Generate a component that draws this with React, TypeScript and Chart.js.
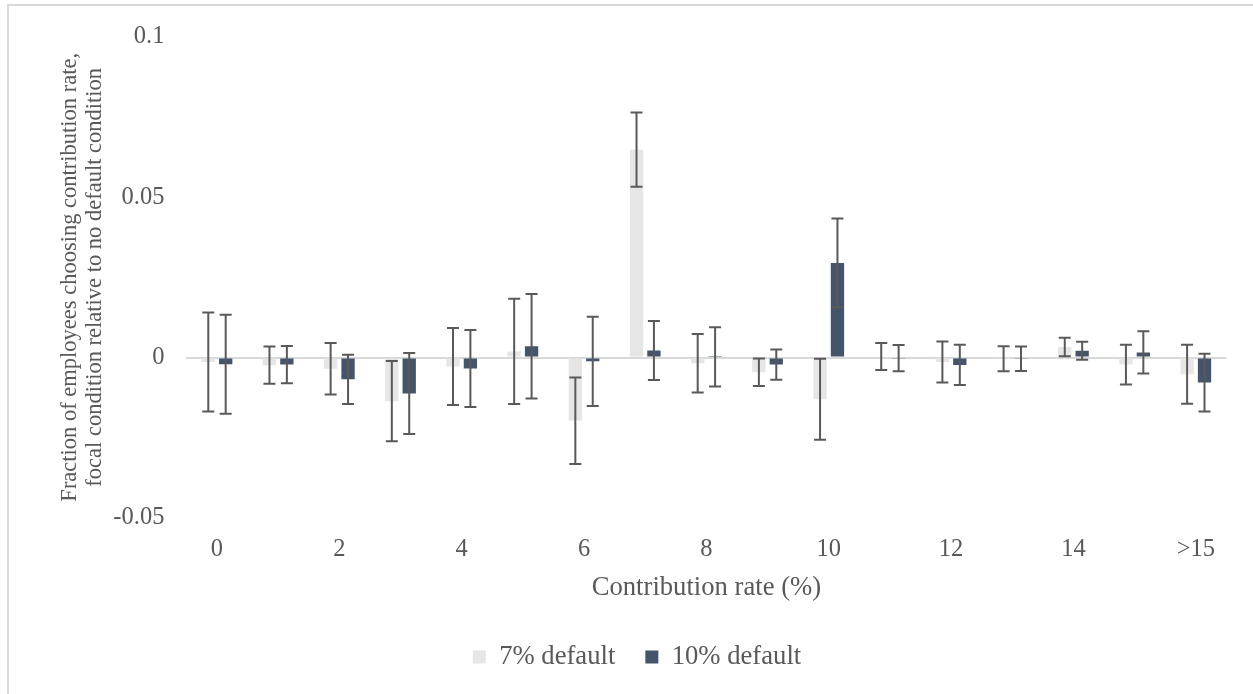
import React, { useEffect, useRef } from 'react';
import { Chart, registerables } from 'chart.js';

Chart.register(...registerables);

// ---- data ----
const CATEGORIES = ['0', '1', '2', '3', '4', '5', '6', '7', '8', '9', '10', '11', '12', '13', '14', '15', '>15'];
const X_TICK_LABELS = ['0', '', '2', '', '4', '', '6', '', '8', '', '10', '', '12', '', '14', '', '>15'];
const SERIES_NAMES = ['7% default', '10% default'];
const DEFAULT_7 = [-0.0014, -0.0024, -0.0035, -0.0136, -0.0028, 0.0019, -0.0197, 0.0648, -0.0018, -0.0046, -0.013, 0.0003, -0.0014, -0.0004, 0.0033, -0.0022, -0.0052];
const ERR_7 = [0.0154, 0.0058, 0.008, 0.0125, 0.012, 0.0164, 0.0135, 0.0116, 0.0091, 0.0043, 0.0126, 0.0042, 0.0064, 0.0039, 0.0029, 0.0062, 0.0092];
const DEFAULT_10 = [-0.0021, -0.0022, -0.0068, -0.0112, -0.0034, 0.0035, -0.0012, 0.0022, 0.0002, -0.0022, 0.0295, -0.0002, -0.0023, -0.0004, 0.0021, 0.0016, -0.0078];
const ERR_10 = [0.0154, 0.0058, 0.0077, 0.0126, 0.012, 0.0163, 0.0139, 0.0092, 0.0092, 0.0047, 0.0138, 0.0041, 0.0063, 0.0038, 0.0028, 0.0066, 0.009];
const Y_TICK_VALUES = [-0.05, 0, 0.05, 0.1];
const Y_TICK_LABELS = ['-0.05', '0', '0.05', '0.1'];
const Y_TITLE = ['Fraction of employees choosing contribution rate,', 'focal condition relative to no default condition'];
const X_TITLE = 'Contribution rate (%)';

const FONT = '"Liberation Serif", "Times New Roman", serif';
const TEXT = '#595959';

const errorBarPlugin = {
  id: 'errorBars',
  afterDatasetsDraw(chart: any) {
    const ctx = chart.ctx;
    const yScale = chart.scales.y;
    chart.data.datasets.forEach((ds: any, di: number) => {
      const meta = chart.getDatasetMeta(di);
      meta.data.forEach((bar: any, i: number) => {
        const v = ds.data[i];
        const e = ds.errors[i];
        const x = bar.x;
        const yTop = yScale.getPixelForValue(v + e);
        const yBot = yScale.getPixelForValue(v - e);
        ctx.save();
        ctx.strokeStyle = '#595959';
        ctx.lineWidth = 2;
        ctx.beginPath();
        ctx.moveTo(x, yTop);
        ctx.lineTo(x, yBot);
        ctx.moveTo(x - 6, yTop);
        ctx.lineTo(x + 6, yTop);
        ctx.moveTo(x - 6, yBot);
        ctx.lineTo(x + 6, yBot);
        ctx.stroke();
        ctx.restore();
      });
    });
  },
};

export default function App() {
  const canvasRef = useRef<HTMLCanvasElement | null>(null);

  useEffect(() => {
    if (!canvasRef.current) return;
    const chart = new Chart(canvasRef.current, {
      type: 'bar',
      data: {
        labels: CATEGORIES,
        datasets: [
          {
            label: SERIES_NAMES[0],
            data: DEFAULT_7,
            errors: ERR_7,
            backgroundColor: '#e7e6e6',
            categoryPercentage: 0.569,
            barPercentage: 0.765,
          } as any,
          {
            label: SERIES_NAMES[1],
            data: DEFAULT_10,
            errors: ERR_10,
            backgroundColor: '#44546a',
            categoryPercentage: 0.569,
            barPercentage: 0.765,
          } as any,
        ],
      },
      options: {
        responsive: false,
        maintainAspectRatio: false,
        devicePixelRatio: 1,
        animation: false,
        layout: { padding: { left: 47.6, right: 26.6, top: 33, bottom: 13.7 } },
        plugins: {
          tooltip: { enabled: false },
          legend: {
            position: 'bottom',
            labels: {
              boxWidth: 13,
              boxHeight: 13,
              padding: 30,
              color: TEXT,
              font: { family: FONT, size: 26.67 },
            },
          },
        },
        scales: {
          x: {
            grid: { display: false, drawTicks: false },
            border: { display: false },
            ticks: {
              autoSkip: false,
              maxRotation: 0,
              minRotation: 0,
              padding: 17,
              color: TEXT,
              font: { family: FONT, size: 24.5 },
              callback: (_v: any, i: number) => X_TICK_LABELS[i],
            },
            title: {
              display: true,
              text: X_TITLE,
              color: TEXT,
              font: { family: FONT, size: 26.67, lineHeight: 1.2 },
              padding: { top: 0, bottom: 9.7 },
            },
            afterFit: (scale: any) => {
              scale.height = 95.7;
            },
          },
          y: {
            min: -0.05,
            max: 0.1,
            grid: {
              drawTicks: false,
              color: (c: any) => (c.tick && c.tick.value === 0 ? '#d9d9d9' : 'rgba(0,0,0,0)'),
              lineWidth: 2,
            },
            border: { display: false },
            afterBuildTicks: (scale: any) => {
              scale.ticks = Y_TICK_VALUES.map((v) => ({ value: v }));
            },
            ticks: {
              padding: 22,
              color: TEXT,
              font: { family: FONT, size: 24.5 },
              callback: (v: any) => {
                const idx = Y_TICK_VALUES.findIndex((t) => Math.abs(t - Number(v)) < 1e-9);
                return idx >= 0 ? Y_TICK_LABELS[idx] : '';
              },
            },
            title: {
              display: true,
              text: Y_TITLE,
              color: TEXT,
              font: { family: FONT, size: 22.5, lineHeight: 1.12 },
              padding: { top: 10, bottom: 0 },
            },
            afterFit: (scale: any) => {
              scale.width = 138.8;
            },
          },
        },
      } as any,
      plugins: [errorBarPlugin],
    });
    return () => chart.destroy();
  }, []);

  return (
    <div style={{ position: 'fixed', left: 0, top: 0, width: 1253, height: 694, background: '#ffffff', overflow: 'hidden' }}>
      <div
        style={{
          position: 'absolute',
          left: 7,
          top: 4,
          right: 0,
          bottom: 0,
          borderLeft: '2px solid #d9d9d9',
          borderTop: '2px solid #d9d9d9',
        }}
      />
      <canvas ref={canvasRef} width={1253} height={694} style={{ position: 'absolute', left: 0, top: 0, display: 'block' }} />
    </div>
  );
}
